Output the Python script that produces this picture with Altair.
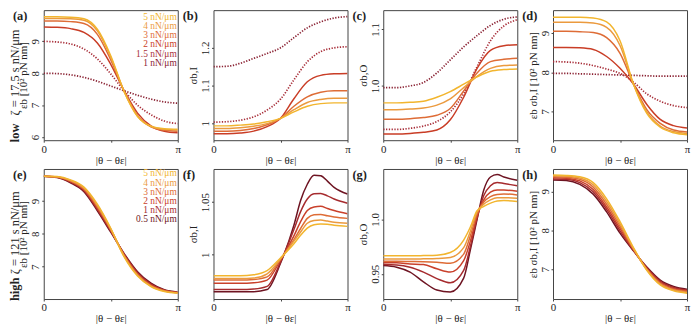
import altair as alt
import numpy as np
import pandas as pd

PI = float(np.pi)

# x positions as fractions of pi
X_STD = [0.0, 0.1, 0.2, 0.3, 0.4, 0.5, 0.6, 0.7, 0.8, 0.9, 1.0]
X_FINE = [0.0, 0.1, 0.2, 0.3, 0.4, 0.5, 0.6, 0.65, 0.7, 0.75, 0.8, 0.85, 0.9, 1.0]

LOW_LABELS = ["5 nN/μm", "4 nN/μm", "3 nN/μm", "2 nN/μm", "1.5 nN/μm", "1 nN/μm"]
HIGH_LABELS = ["5 nN/μm", "4 nN/μm", "3 nN/μm", "2 nN/μm", "1 nN/μm", "0.5 nN/μm"]
LOW_COLORS = ["#f2b52e", "#eb9a3e", "#de6c36", "#c93d26", "#a82f3a", "#8a2233"]
HIGH_COLORS = ["#f2b52e", "#eb9a3e", "#de6c36", "#c9402b", "#a62b2e", "#6e1422"]
LOW_DOTTED = [False, False, False, False, True, True]
HIGH_DOTTED = [False] * 6

# (a) e_b, low zeta
A5 = [9.77, 9.77, 9.76, 9.71, 9.38, 8.55, 7.42, 6.64, 6.34, 6.26, 6.24]
A4 = [9.72, 9.72, 9.71, 9.66, 9.33, 8.50, 7.43, 6.66, 6.33, 6.24, 6.22]
A3 = [9.64, 9.64, 9.62, 9.56, 9.22, 8.42, 7.44, 6.68, 6.32, 6.21, 6.18]
A2 = [9.45, 9.44, 9.40, 9.28, 8.95, 8.28, 7.45, 6.75, 6.35, 6.18, 6.13]
A15 = [9.00, 8.98, 8.92, 8.76, 8.45, 7.98, 7.45, 7.00, 6.70, 6.50, 6.42]
A1 = [8.00, 7.99, 7.95, 7.87, 7.75, 7.60, 7.45, 7.31, 7.19, 7.10, 7.06]

# (b) sigma_b,I, low zeta
B5 = [0.993, 0.993, 0.995, 0.998, 1.004, 1.013, 1.030, 1.045, 1.052, 1.054, 1.054]
B4 = [0.986, 0.986, 0.988, 0.992, 0.999, 1.013, 1.036, 1.055, 1.063, 1.066, 1.066]
B3 = [0.979, 0.979, 0.981, 0.986, 0.996, 1.013, 1.045, 1.070, 1.082, 1.086, 1.086]
B2 = [0.972, 0.972, 0.974, 0.979, 0.991, 1.013, 1.065, 1.110, 1.127, 1.131, 1.132]
B15 = [1.003, 1.004, 1.008, 1.017, 1.035, 1.064, 1.115, 1.163, 1.190, 1.200, 1.203]
B1 = [1.150, 1.151, 1.159, 1.172, 1.185, 1.200, 1.227, 1.253, 1.269, 1.279, 1.283]

# (c) sigma_b,O, low zeta
C5 = [0.970, 0.970, 0.971, 0.973, 0.980, 0.990, 1.003, 1.016, 1.026, 1.029, 1.030]
C4 = [0.958, 0.958, 0.959, 0.961, 0.966, 0.977, 0.997, 1.017, 1.031, 1.036, 1.037]
C3 = [0.941, 0.941, 0.942, 0.944, 0.948, 0.960, 0.991, 1.023, 1.043, 1.047, 1.049]
C2 = [0.915, 0.915, 0.916, 0.918, 0.922, 0.940, 0.980, 1.031, 1.063, 1.071, 1.073]
C15 = [0.923, 0.923, 0.925, 0.929, 0.937, 0.954, 0.986, 1.034, 1.080, 1.106, 1.117]
C1 = [0.997, 0.997, 1.000, 1.006, 1.023, 1.046, 1.069, 1.089, 1.107, 1.118, 1.122]

# (d) e_b sigma_b,I, low zeta
D5 = [9.40, 9.40, 9.40, 9.38, 9.28, 8.80, 7.70, 6.95, 6.60, 6.46, 6.41]
D4 = [9.27, 9.27, 9.27, 9.25, 9.14, 8.68, 7.70, 6.99, 6.63, 6.49, 6.44]
D3 = [9.04, 9.04, 9.03, 9.01, 8.88, 8.48, 7.70, 7.05, 6.70, 6.53, 6.48]
D2 = [8.63, 8.63, 8.62, 8.58, 8.40, 8.10, 7.70, 7.18, 6.80, 6.64, 6.58]
D15 = [8.27, 8.26, 8.23, 8.17, 8.08, 7.97, 7.75, 7.45, 7.26, 7.15, 7.10]
D1 = [7.97, 7.97, 7.96, 7.95, 7.94, 7.93, 7.92, 7.91, 7.90, 7.90, 7.90]

# (e) e_b, high zeta
E5 = [9.75, 9.74, 9.64, 9.42, 8.90, 8.17, 7.30, 6.72, 6.40, 6.25, 6.20]
E4 = [9.75, 9.735, 9.62, 9.39, 8.86, 8.15, 7.32, 6.74, 6.41, 6.26, 6.205]
E3 = [9.75, 9.73, 9.61, 9.36, 8.82, 8.13, 7.34, 6.76, 6.43, 6.27, 6.21]
E2 = [9.75, 9.725, 9.59, 9.34, 8.78, 8.11, 7.36, 6.79, 6.45, 6.28, 6.215]
E1 = [9.75, 9.72, 9.57, 9.31, 8.74, 8.08, 7.38, 6.82, 6.47, 6.29, 6.22]
E05 = [9.75, 9.71, 9.55, 9.28, 8.70, 8.05, 7.40, 6.85, 6.50, 6.30, 6.23]

# (f) sigma_b,I, high zeta (fine grid)
F5 = [0.980, 0.980, 0.980, 0.981, 0.985, 0.997, 1.0105, 1.0185, 1.0253, 1.0285, 1.0293, 1.029, 1.028, 1.027]
F4 = [0.9775, 0.9775, 0.9775, 0.978, 0.982, 0.996, 1.013, 1.0216, 1.030, 1.0325, 1.033, 1.032, 1.031, 1.030]
F3 = [0.976, 0.976, 0.976, 0.9765, 0.979, 0.996, 1.0145, 1.025, 1.0346, 1.038, 1.0383, 1.037, 1.036, 1.0346]
F2 = [0.973, 0.973, 0.973, 0.9735, 0.976, 0.995, 1.018, 1.0315, 1.042, 1.0455, 1.046, 1.044, 1.042, 1.039]
F1 = [0.967, 0.967, 0.967, 0.9675, 0.970, 0.993, 1.024, 1.041, 1.053, 1.058, 1.0583, 1.056, 1.053, 1.049]
F05 = [0.965, 0.965, 0.965, 0.965, 0.967, 0.992, 1.028, 1.0515, 1.067, 1.0756, 1.075, 1.070, 1.064, 1.0577]

# (g) sigma_b,O, high zeta (fine grid)
G5 = [0.9665, 0.9665, 0.9665, 0.9667, 0.967, 0.9695, 0.981, 0.993, 1.008, 1.012, 1.015, 1.017, 1.0174, 1.0165]
G4 = [0.9635, 0.9635, 0.9635, 0.9637, 0.964, 0.965, 0.974, 0.989, 1.007, 1.014, 1.018, 1.020, 1.020, 1.0195]
G3 = [0.9614, 0.9614, 0.9612, 0.961, 0.9605, 0.9596, 0.968, 0.985, 1.005, 1.016, 1.021, 1.023, 1.0234, 1.0225]
G2 = [0.960, 0.960, 0.959, 0.9584, 0.9545, 0.9515, 0.962, 0.980, 1.003, 1.018, 1.025, 1.027, 1.027, 1.026]
G1 = [0.9584, 0.958, 0.956, 0.9515, 0.9455, 0.9416, 0.953, 0.975, 1.001, 1.022, 1.031, 1.034, 1.033, 1.031]
G05 = [0.9575, 0.956, 0.9515, 0.9425, 0.935, 0.9332, 0.946, 0.972, 1.000, 1.027, 1.039, 1.0413, 1.039, 1.036]

# (h) e_b sigma_b,I, high zeta
H5 = [9.42, 9.41, 9.375, 9.225, 8.81, 8.225, 7.56, 6.975, 6.60, 6.45, 6.39]
H4 = [9.40, 9.39, 9.345, 9.17, 8.74, 8.17, 7.54, 6.99, 6.62, 6.47, 6.41]
H3 = [9.375, 9.365, 9.31, 9.11, 8.67, 8.11, 7.52, 7.005, 6.645, 6.49, 6.43]
H2 = [9.35, 9.34, 9.27, 9.05, 8.60, 8.05, 7.505, 7.02, 6.67, 6.51, 6.45]
H1 = [9.32, 9.31, 9.225, 8.99, 8.54, 7.99, 7.49, 7.04, 6.70, 6.535, 6.47]
H05 = [9.29, 9.28, 9.18, 8.93, 8.475, 7.93, 7.475, 7.06, 6.725, 6.56, 6.49]

FONT = "Liberation Serif"
W, H = 135, 131
INK = "#222222"


def one_text(txt, x, y, **kw):
    return alt.Chart(pd.DataFrame({"t": [txt]})).mark_text(font=FONT, **kw).encode(
        text="t:N", x=alt.value(x), y=alt.value(y))


def make_panel(xs, series, colors, dotted, ydom, yvals, ytitle, tag,
               yfmt=None, ylabexpr=None, legend=None, legend_y0=None, row=None):
    xe = alt.X("x:Q", scale=alt.Scale(domain=[0, PI], nice=False, zero=False),
               axis=alt.Axis(values=[0, PI / 2, PI],
                             labelExpr="datum.value < 0.1 ? '0' : (datum.value > 3 ? 'π' : '')",
                             title="|θ − θε|", labelFlush=False, labelAngle=0,
                             tickSize=2, labelPadding=1, titlePadding=0))
    ax = dict(values=yvals, title=ytitle, labelAngle=-90, labelAlign="center",
              labelBaseline="bottom", labelFlush=False, tickSize=2,
              labelPadding=1, titlePadding=1)
    if yfmt:
        ax["format"] = yfmt
    if ylabexpr:
        ax["labelExpr"] = ylabexpr
    ye = alt.Y("y:Q", scale=alt.Scale(domain=ydom, nice=False, zero=False),
               axis=alt.Axis(**ax))
    layers = []
    for i in reversed(range(len(series))):
        df = pd.DataFrame({"x": [f * PI for f in xs], "y": series[i]})
        mk = dict(color=colors[i], strokeWidth=1.5, interpolate="monotone", clip=True)
        if dotted[i]:
            mk["strokeDash"] = [1.3, 1.5]
            mk["strokeWidth"] = 1.7
        layers.append(alt.Chart(df).mark_line(**mk).encode(x=xe, y=ye))
    if legend is not None:
        for i, lab in enumerate(legend):
            layers.append(one_text(lab, W - 1, legend_y0 + 9.2 * i, align="right",
                                   baseline="middle", fontSize=9.5, color=colors[i]))
    layers.append(one_text(tag, -31, 0, align="left", baseline="top",
                           fontSize=12.5, fontWeight="bold", color=INK))
    if row is not None:
        word, rest = row
        layers.append(one_text(word, -25, H + 2, align="left", baseline="alphabetic",
                               angle=270, fontSize=12.5, fontWeight="bold", color=INK))
        layers.append(one_text(rest, -25, H + 2 - 27, align="left", baseline="alphabetic",
                               angle=270, fontSize=12.5, color=INK))
    return alt.layer(*layers).properties(width=W, height=H)


LOW = [A5, A4, A3, A2, A15, A1]
pa = make_panel(X_STD, LOW, LOW_COLORS, LOW_DOTTED, [5.9, 9.98], [6, 7, 8, 9],
                "εb [10² pN nm]", "(a)", yfmt="d", legend=LOW_LABELS, legend_y0=7,
                row=("low", "ζ = 17.5 s nN/μm"))
pb = make_panel(X_STD, [B5, B4, B3, B2, B15, B1], LOW_COLORS, LOW_DOTTED, [0.955, 1.30],
                [1.0, 1.1, 1.2], "σb,I", "(b)", yfmt="~g")
pc = make_panel(X_STD, [C5, C4, C3, C2, C15, C1], LOW_COLORS, LOW_DOTTED, [0.904, 1.134],
                [1.0, 1.1], "σb,O", "(c)", yfmt=".1f")
pd_ = make_panel(X_STD, [D5, D4, D3, D2, D15, D1], LOW_COLORS, LOW_DOTTED, [6.27, 9.58],
                 [7, 8, 9], "εb σb,I [10² pN nm]", "(d)", yfmt="d")

pe = make_panel(X_STD, [E5, E4, E3, E2, E1, E05], HIGH_COLORS, HIGH_DOTTED, [6.02, 9.97],
                [7, 8, 9], "εb [10² pN nm]", "(e)", yfmt="d", legend=HIGH_LABELS,
                legend_y0=4.5, row=("high", "ζ = 121 s nN/μm"))
pf = make_panel(X_FINE, [F5, F4, F3, F2, F1, F05], HIGH_COLORS, HIGH_DOTTED, [0.958, 1.0815],
                [1.0, 1.05], "σb,I", "(f)", yfmt="~g")
pg = make_panel(X_FINE, [G5, G4, G3, G2, G1, G05], HIGH_COLORS, HIGH_DOTTED, [0.9267, 1.0464],
                [0.95, 1.0], "σb,O", "(g)",
                ylabexpr="datum.value > 0.99 ? '1.0' : '0.95'")
ph = make_panel(X_STD, [H5, H4, H3, H2, H1, H05], HIGH_COLORS, HIGH_DOTTED, [6.24, 9.575],
                [7, 8, 9], "εb σb,I [10² pN nm]", "(h)", yfmt="d")

chart = alt.concat(pa, pb, pc, pd_, pe, pf, pg, ph, columns=4,
                   spacing=alt.RowColnumber(row=29, column=36), bounds="flush").properties(
    padding=0, background="white"
).configure_view(stroke="#444444", strokeWidth=1).configure_axis(
    grid=False, domain=False, labelFont=FONT, titleFont=FONT, labelFontSize=11,
    titleFontSize=11, titleFontWeight="normal", labelColor=INK, titleColor=INK,
    tickColor="#444444"
)

chart.save("out.html", embed_options={"renderer": "svg", "actions": False})
